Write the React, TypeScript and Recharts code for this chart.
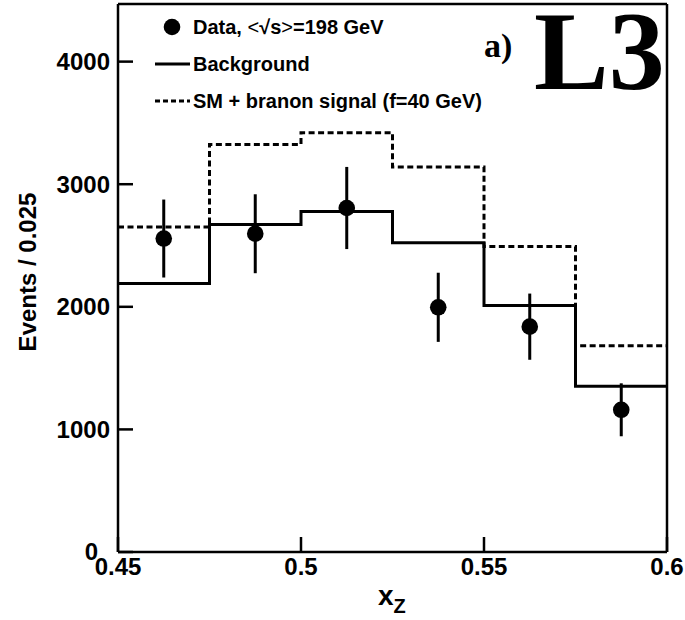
import {
  ComposedChart,
  Line,
  Scatter,
  ErrorBar,
  XAxis,
  YAxis,
  ReferenceLine,
} from "recharts";

// bin edges in x_Z (last value repeated to close the final step)
const binEdges = [0.45, 0.475, 0.5, 0.525, 0.55, 0.575, 0.6];
const background = [2190, 2672, 2777, 2522, 2010, 1352, 1352];
const signal = [2650, 3324, 3420, 3140, 2492, 1683, 1683];

// data points at bin centres
const dataX = [0.4625, 0.4875, 0.5125, 0.5375, 0.5625, 0.5875];
const dataY = [2557, 2596, 2806, 1996, 1838, 1160];
const dataErr = [318, 322, 335, 282, 270, 216];

const xTicks = [0.45, 0.5, 0.55, 0.6];
const yTicks = [0, 1000, 2000, 3000, 4000];
const Y_MAX = 4470;

const histData = binEdges.map((x, i) => ({ x, bg: background[i], sig: signal[i] }));
const points = dataX.map((x, i) => ({ x, y: dataY[i], err: dataErr[i] }));

const FONT = "'Liberation Sans', Arial, sans-serif";
const SERIF = "'Liberation Serif', 'Times New Roman', serif";

// y tick label; the "0" sits a bit further left, as in the original
function YTick(props: any) {
  const { x, y, payload } = props;
  const shift = payload.value === 0 ? -12 : 0;
  return (
    <text
      x={x + shift}
      y={y}
      dy="0.35em"
      textAnchor="end"
      fontFamily={FONT}
      fontWeight="bold"
      fontSize={24}
      fill="#000"
    >
      {payload.value}
    </text>
  );
}

function LegendBox() {
  return (
    <g transform="translate(150,12)">
      <circle cx={22} cy={15} r={8.3} fill="#000" />
      <text x={43} y={22} fontFamily={FONT} fontWeight="bold" fontSize={20}>
        Data, <tspan fontWeight="normal">&lt;</tspan>√s<tspan fontWeight="normal">&gt;</tspan>=198 GeV
      </text>
      <line x1={5} x2={40} y1={52} y2={52} stroke="#000" strokeWidth={3} />
      <text x={43} y={59} fontFamily={FONT} fontWeight="bold" fontSize={20}>
        Background
      </text>
      <line x1={5} x2={40} y1={89} y2={89} stroke="#000" strokeWidth={3} strokeDasharray="5 3" />
      <text x={43} y={96} fontFamily={FONT} fontWeight="bold" fontSize={20}>
        SM + branon signal (f=40 GeV)
      </text>
    </g>
  );
}

export default function App() {
  return (
    <div style={{ position: "absolute", left: 0, top: 0, width: 685, height: 620, background: "#fff" }}>
      <ComposedChart
        width={685}
        height={620}
        margin={{ top: 4, right: 18, bottom: 38, left: 58 }}
      >
        <XAxis
          dataKey="x"
          type="number"
          domain={[0.45, 0.6]}
          ticks={xTicks}
          allowDataOverflow
          height={30}
          tickSize={-15}
          tickMargin={21}
          stroke="#000"
          strokeWidth={2.5}
          tick={{ fontSize: 24, fontWeight: "bold", fill: "#000", fontFamily: FONT }}
        />
        <YAxis
          type="number"
          domain={[0, Y_MAX]}
          ticks={yTicks}
          allowDataOverflow
          width={60}
          tickSize={-15}
          tickMargin={23}
          stroke="#000"
          strokeWidth={2.5}
          tick={<YTick />}
        />
        <ReferenceLine y={Y_MAX} stroke="#000" strokeWidth={2.5} />
        <ReferenceLine x={0.6} stroke="#000" strokeWidth={2.5} />
        <Line
          data={histData}
          dataKey="sig"
          type="stepAfter"
          stroke="#000"
          strokeWidth={3}
          strokeDasharray="6 3.5"
          dot={false}
          isAnimationActive={false}
        />
        <Line
          data={histData}
          dataKey="bg"
          type="stepAfter"
          stroke="#000"
          strokeWidth={3}
          dot={false}
          isAnimationActive={false}
        />
        <Scatter
          data={points}
          dataKey="y"
          isAnimationActive={false}
          shape={(p: any) => <circle cx={p.cx} cy={p.cy} r={8.3} fill="#000" />}
        >
          <ErrorBar dataKey="err" direction="y" width={0} stroke="#000" strokeWidth={3} />
        </Scatter>
      </ComposedChart>
      <svg
        width={685}
        height={620}
        style={{ position: "absolute", left: 0, top: 0, pointerEvents: "none" }}
      >
        <LegendBox />
        <text x={484} y={57} fontFamily={SERIF} fontWeight="bold" fontSize={34}>
          a)
        </text>
        <text x={534} y={89} fontFamily={SERIF} fontWeight="bold" fontSize={112}>
          L3
        </text>
        <text
          transform="translate(36,272) rotate(-90)"
          textAnchor="middle"
          fontFamily={FONT}
          fontWeight="bold"
          fontSize={24}
        >
          Events / 0.025
        </text>
        <text x={378} y={605} fontFamily={FONT} fontWeight="bold" fontSize={28}>
          x
          <tspan fontSize={20} dy={8}>Z</tspan>
        </text>
      </svg>
    </div>
  );
}
